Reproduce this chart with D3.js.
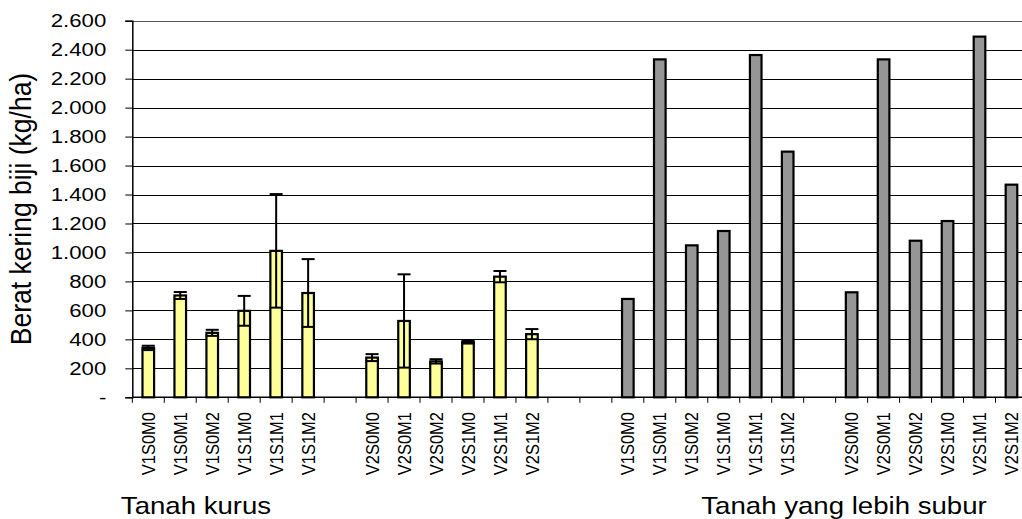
<!DOCTYPE html>
<html>
<head>
<meta charset="utf-8">
<script src="https://cdn.jsdelivr.net/npm/d3@7"></script>
<style>
  html, body { margin: 0; padding: 0; background: #fff; }
  svg { display: block; font-family: "Liberation Sans", Arial, sans-serif; }
</style>
</head>
<body>
<svg id="chart" width="1022" height="519"></svg>
<script>
// Treatment codes (variety V, S and M levels)
const treatments = ["V1S0M0", "V1S0M1", "V1S0M2", "V1S1M0", "V1S1M1", "V1S1M2",
                    "V2S0M0", "V2S0M1", "V2S0M2", "V2S1M0", "V2S1M1", "V2S1M2"];

// Poor soil (Tanah kurus): mean and error
const kurusMean = [341, 703, 445, 597, 1011, 720, 274, 527, 248, 382, 833, 436];
const kurusErr  = [15, 24, 21, 103, 392, 234, 24, 322, 15, 11, 39, 35];

// More fertile soil (Tanah yang lebih subur): mean
const suburMean = [679, 2333, 1049, 1148, 2363, 1696, 725, 2333, 1081, 1217, 2490, 1468];

// Value axis ticks
const yTicks = [0, 200, 400, 600, 800, 1000, 1200, 1400, 1600, 1800, 2000, 2200, 2400, 2600];

const groupTitles = ["Tanah kurus", "Tanah yang lebih subur"];
const yTitle = "Berat kering biji (kg/ha)";

// Category slots along the x axis, with empty slots between blocks
const slots = [];
function addBlock(soil, from) {
  for (let i = from; i < from + 6; i++) slots.push({ id: soil + i, label: treatments[i], soil, i });
}
function addGap(n) { slots.push({ id: "gap" + n, label: "", soil: null }); }
addBlock("k", 0); addGap(1); addBlock("k", 6); addGap(2); addGap(3);
addBlock("s", 0); addGap(4); addBlock("s", 6);

const svg = d3.select("#chart");
const left = 132.3, step = 31.97;
const x = d3.scaleBand().domain(slots.map(d => d.id))
  .range([left, left + step * slots.length]).paddingInner(0).paddingOuter(0);
const y = d3.scaleLinear().domain([0, 2600]).range([397.3, 20.7]);

const locale = d3.formatLocale({ decimal: ",", thousands: ".", grouping: [3], currency: ["", ""] });
const fmt = v => v === 0 ? "-" : locale.format(",")(v);

// Gridlines
svg.append("g").selectAll("line").data(yTicks.filter(v => v > 0)).join("line")
  .attr("x1", left).attr("x2", 1022)
  .attr("y1", d => Math.round(y(d)) + 0.5).attr("y2", d => Math.round(y(d)) + 0.5)
  .attr("stroke", d => d === 2600 ? "#555" : "#000").attr("stroke-width", 1);

// Y axis
const yAxis = svg.append("g").attr("transform", `translate(${left},0)`)
  .call(d3.axisLeft(y).tickValues(yTicks).tickSize(7).tickPadding(19).tickFormat(fmt));
yAxis.select(".domain").attr("stroke", "#000").attr("stroke-width", 1.5);
yAxis.selectAll(".tick line").attr("stroke", "#000").attr("stroke-width", 1);
yAxis.selectAll(".tick text")
  .attr("font-size", 19).attr("fill", "#000")
  .attr("font-family", "Liberation Sans, Arial, sans-serif")
  .each(function () {
    const t = d3.select(this);
    const xx = +t.attr("x");
    t.attr("x", null).attr("transform", `translate(${xx},0) scale(1.17,1)`);
  });

// X axis line and boundary ticks
svg.append("line").attr("x1", left).attr("x2", 1022)
  .attr("y1", y(0)).attr("y2", y(0)).attr("stroke", "#000").attr("stroke-width", 1.5);
svg.append("g").selectAll("line").data(d3.range(slots.length + 1)).join("line")
  .attr("x1", i => left + i * step).attr("x2", i => left + i * step)
  .attr("y1", y(0)).attr("y2", y(0) + 5.5)
  .attr("stroke", "#000").attr("stroke-width", 1);

// Bars
const barW = 11.6;
const data = slots.filter(d => d.soil).map(d => ({
  ...d,
  v: d.soil === "k" ? kurusMean[d.i] : suburMean[d.i],
  e: d.soil === "k" ? kurusErr[d.i] : null
}));
const cx = d => x(d.id) + x.bandwidth() / 2;

svg.append("g").selectAll("rect").data(data).join("rect")
  .attr("x", d => cx(d) - barW / 2).attr("width", barW)
  .attr("y", d => y(d.v)).attr("height", d => y(0) - y(d.v))
  .attr("fill", d => d.soil === "k" ? "#FFFF99" : "#969696")
  .attr("stroke", "#000").attr("stroke-width", 2.2);

// Error bars
const eb = svg.append("g").selectAll("g").data(data.filter(d => d.e != null)).join("g")
  .attr("stroke", "#000").attr("stroke-width", 2);
eb.append("line").attr("x1", cx).attr("x2", cx)
  .attr("y1", d => y(d.v + d.e)).attr("y2", d => y(d.v - d.e));
eb.append("line").attr("x1", d => cx(d) - 6.5).attr("x2", d => cx(d) + 6.5)
  .attr("y1", d => y(d.v + d.e)).attr("y2", d => y(d.v + d.e));
eb.append("line").attr("x1", d => cx(d) - 6.5).attr("x2", d => cx(d) + 6.5)
  .attr("y1", d => y(d.v - d.e)).attr("y2", d => y(d.v - d.e));

// Category labels (rotated)
svg.append("g").selectAll("text").data(slots.filter(d => d.soil)).join("text")
  .attr("transform", d => `translate(${cx(d)},412) scale(1.12,1) rotate(-90)`)
  .attr("dy", "0.36em").attr("text-anchor", "end")
  .attr("font-size", 16.5).attr("fill", "#000")
  .text(d => d.label);

// Group titles
const titlePos = [196, 844];
svg.append("g").selectAll("text").data(groupTitles).join("text")
  .attr("transform", (d, i) => `translate(${titlePos[i]},513.5) scale(1.15,1)`)
  .attr("text-anchor", "middle").attr("font-size", 24).attr("fill", "#000")
  .text(d => d);

// Y axis title
svg.append("text")
  .attr("transform", "translate(31,209) scale(1.12,1) rotate(-90)")
  .attr("text-anchor", "middle").attr("font-size", 26.5).attr("fill", "#000")
  .text(yTitle);
</script>
</body>
</html>
